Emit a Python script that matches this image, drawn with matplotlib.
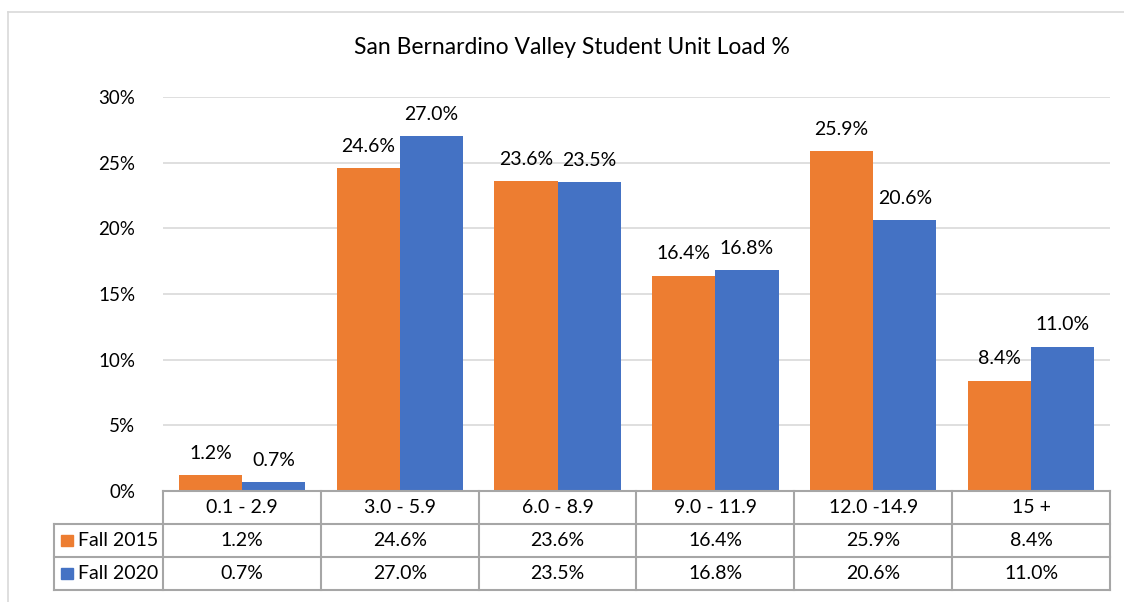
import numpy as np
import matplotlib.pyplot as plt
from matplotlib.lines import Line2D
from matplotlib.patches import Rectangle

plt.rcParams['font.family'] = ['Lato', 'DejaVu Sans']

# data
categories = ['0.1 - 2.9', '3.0 - 5.9', '6.0 - 8.9', '9.0 - 11.9', '12.0 -14.9', '15 +']
fall2015 = [1.2, 24.6, 23.6, 16.4, 25.9, 8.4]
fall2020 = [0.7, 27.0, 23.5, 16.8, 20.6, 11.0]
series_names = ['Fall 2015', 'Fall 2020']
title = 'San Bernardino Valley Student Unit Load %'

orange = '#ED7D31'
blue = '#4472C4'
gridc = '#D9D9D9'
tablec = '#A6A6A6'
fs = 14

W, H = 1124, 602
fig = plt.figure(figsize=(W/100, H/100), dpi=100)

def px(x0, y0, x1, y1):
    # pixel box (top-left origin) -> figure fraction rect
    return [x0/W, 1-y1/H, (x1-x0)/W, (y1-y0)/H]

# outer chart border
fig.add_artist(Line2D([8/W, 8/W], [0, 1-12/H], color=gridc, lw=1.2))
fig.add_artist(Line2D([8/W, 1], [1-12/H, 1-12/H], color=gridc, lw=1.2))

ax = fig.add_axes(px(163, 97, 1110, 491))
x = np.arange(len(categories))
bw = 0.40
b1 = ax.bar(x - bw/2, fall2015, bw, color=orange, zorder=3)
b2 = ax.bar(x + bw/2, fall2020, bw, color=blue, zorder=3)
for bars, vals in ((b1, fall2015), (b2, fall2020)):
    for r, v in zip(bars, vals):
        ax.annotate('%.1f%%' % v, (r.get_x() + r.get_width()/2, v),
                    xytext=(0, 9.5), textcoords='offset points',
                    ha='center', va='bottom', fontsize=fs, color='#000000')

ax.set_xlim(-0.5, len(categories) - 0.5)
ax.set_ylim(0, 30)
ax.set_yticks(np.arange(0, 31, 5))
ax.set_yticklabels(['%d%%' % t for t in range(0, 31, 5)], fontsize=13.5)
ax.tick_params(axis='y', length=0, pad=20)
ax.set_xticks([])
ax.grid(axis='y', color=gridc, lw=1.2, zorder=0)
for s in ax.spines.values():
    s.set_visible(False)

fig.text(572/W, 1-48/H, title, ha='center', va='center', fontsize=16.5)

# data table
tab = fig.add_axes(px(163, 491, 1110, 590))
tab.set_xlim(-0.5, len(categories) - 0.5)
tab.set_ylim(0, 3)
tab.axis('off')
left = -0.5 - (163 - 54) / ((1110 - 163) / len(categories))
kw = dict(color=tablec, lw=1.5, clip_on=False)
tab.plot([-0.5, 5.5], [3, 3], **kw)
for yy in (2, 1, 0):
    tab.plot([left, 5.5], [yy, yy], **kw)
for xx in np.arange(-0.5, 5.6, 1):
    tab.plot([xx, xx], [0, 3], **kw)
tab.plot([left, left], [0, 2], **kw)

for i, c in enumerate(categories):
    tab.text(i, 2.5, c, ha='center', va='center', fontsize=fs)
    tab.text(i, 1.5, '%.1f%%' % fall2015[i], ha='center', va='center', fontsize=fs)
    tab.text(i, 0.5, '%.1f%%' % fall2020[i], ha='center', va='center', fontsize=fs)

sq = 0.12
for yy, name, col in ((1.5, series_names[0], orange), (0.5, series_names[1], blue)):
    tab.add_patch(Rectangle((left + 0.045, yy - 0.18), sq * 0.62, 0.36,
                            color=col, clip_on=False))
    tab.text(left + 0.15, yy, name, ha='left', va='center', fontsize=fs)

fig.savefig('out.png', dpi=100)
